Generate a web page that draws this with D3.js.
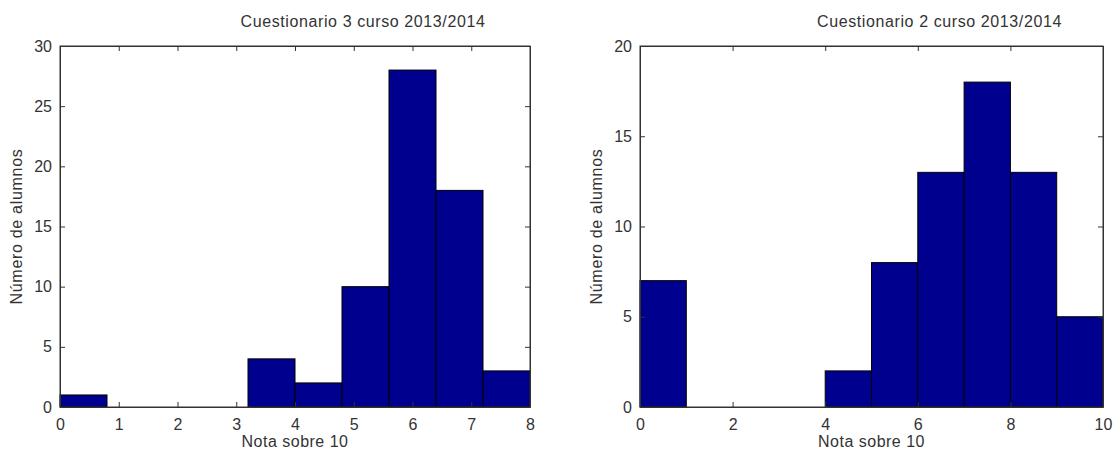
<!DOCTYPE html>
<html>
<head>
<meta charset="utf-8">
<script src="https://cdn.jsdelivr.net/npm/d3@7"></script>
<style>
body { margin: 0; background: #fff; }
text { font-family: "Liberation Sans", Arial, sans-serif; fill: #333; }
</style>
</head>
<body>
<script>
// histogram data
let edges3 = [0, 0.8, 1.6, 2.4, 3.2, 4.0, 4.8, 5.6, 6.4, 7.2, 8.0];
let counts3 = [1, 0, 0, 0, 4, 2, 10, 28, 18, 3];
let xTicks3 = [0, 1, 2, 3, 4, 5, 6, 7, 8];
let yTicks3 = [0, 5, 10, 15, 20, 25, 30];

let edges2 = [0, 1, 2, 3, 4, 5, 6, 7, 8, 9, 10];
let counts2 = [7, 0, 0, 0, 2, 8, 13, 18, 13, 5];
let xTicks2 = [0, 2, 4, 6, 8, 10];
let yTicks2 = [0, 5, 10, 15, 20];

let svg = d3.select("body").append("svg")
   .attr("width", 1114).attr("height", 457);

function drawHist(left, right, title, edges, counts, xMax, yMax, xTicks, yTicks) {
   let top = 46, bottom = 407;
   let x = d3.scaleLinear().domain([0, xMax]).range([left, right]);
   let y = d3.scaleLinear().domain([0, yMax]).range([bottom, top]);
   let g = svg.append("g");

   let bins = counts.map(function (c, i) { return { x0: edges[i], x1: edges[i + 1], n: c }; });
   g.selectAll("rect").data(bins.filter(function (d) { return d.n > 0; }))
      .enter().append("rect")
      .attr("x", function (d) { return x(d.x0); })
      .attr("y", function (d) { return y(d.n); })
      .attr("width", function (d) { return x(d.x1) - x(d.x0); })
      .attr("height", function (d) { return y(0) - y(d.n); })
      .attr("fill", "#00008f")
      .attr("stroke", "#000").attr("stroke-width", 1);

   // ticks inside, on all four sides
   let tl = 5;
   let axB = d3.axisBottom(x).tickValues(xTicks).tickSizeInner(-tl).tickSizeOuter(0).tickPadding(12);
   let axT = d3.axisTop(x).tickValues(xTicks).tickSizeInner(-tl).tickSizeOuter(0).tickFormat("");
   let axL = d3.axisLeft(y).tickValues(yTicks).tickSizeInner(-tl).tickSizeOuter(0).tickPadding(8);
   let axR = d3.axisRight(y).tickValues(yTicks).tickSizeInner(-tl).tickSizeOuter(0).tickFormat("");
   g.append("g").attr("transform", "translate(0," + bottom + ")").call(axB);
   g.append("g").attr("transform", "translate(0," + top + ")").call(axT);
   g.append("g").attr("transform", "translate(" + left + ",0)").call(axL);
   g.append("g").attr("transform", "translate(" + right + ",0)").call(axR);
   g.selectAll(".domain").attr("stroke", "#333");
   g.selectAll(".tick line").attr("stroke", "#333");
   g.selectAll(".tick text").style("font-size", "16px").attr("fill", "#333");

   g.append("rect").attr("x", left).attr("y", top)
      .attr("width", right - left).attr("height", bottom - top)
      .attr("fill", "none").attr("stroke", "#333");

   // titles sit right of the axes centre in the original
   g.append("text").attr("x", (left + right) / 2 + 68).attr("y", 27)
      .attr("text-anchor", "middle").style("font-size", "16px")
      .style("letter-spacing", "0.6px").text(title);
   g.append("text").attr("x", (left + right) / 2).attr("y", 447)
      .attr("text-anchor", "middle").style("font-size", "16px")
      .style("letter-spacing", "0.5px").text("Nota sobre 10");
   g.append("text")
      .attr("transform", "translate(" + (left - 38) + "," + ((top + bottom) / 2) + ") rotate(-90)")
      .attr("text-anchor", "middle").style("font-size", "16px")
      .style("letter-spacing", "0.7px").text("Número de alumnos");
}

drawHist(60, 530, "Cuestionario 3 curso 2013/2014", edges3, counts3, 8, 30, xTicks3, yTicks3);
drawHist(640, 1103, "Cuestionario 2  curso 2013/2014", edges2, counts2, 10, 20, xTicks2, yTicks2);
</script>
</body>
</html>
